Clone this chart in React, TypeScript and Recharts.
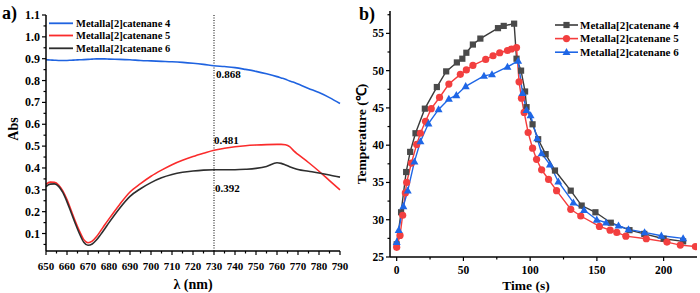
import { LineChart, Line, XAxis, YAxis, ReferenceLine, ReferenceDot } from 'recharts';

// ---- panel a: absorption spectra ----
const wavelengths = [
  650, 652, 654, 656, 658, 660, 662, 664, 666, 668, 670, 672, 674, 676, 678, 680,
  685, 690, 695, 700, 705, 710, 715, 720, 725, 730, 735, 740, 745, 750, 755, 760,
  762, 764, 766, 768, 770, 775, 780, 785, 790,
];
const absCat4 = [
  0.895, 0.894, 0.893, 0.892, 0.892, 0.892, 0.893, 0.894, 0.895, 0.896, 0.897, 0.898, 0.899, 0.899, 0.899, 0.898,
  0.897, 0.895, 0.892, 0.89, 0.888, 0.886, 0.883, 0.879, 0.874, 0.868, 0.864, 0.859, 0.851, 0.842, 0.831, 0.818,
  0.812, 0.806, 0.798, 0.792, 0.784, 0.764, 0.745, 0.722, 0.695,
];
const absCat5 = [
  0.325, 0.335, 0.334, 0.322, 0.295, 0.255, 0.205, 0.155, 0.11, 0.072, 0.058, 0.065, 0.085, 0.112, 0.14, 0.167,
  0.232, 0.29, 0.328, 0.362, 0.39, 0.415, 0.435, 0.452, 0.467, 0.481, 0.49, 0.497, 0.502, 0.505, 0.507, 0.508,
  0.508, 0.506, 0.498, 0.478, 0.462, 0.425, 0.385, 0.342, 0.3,
];
const absCat6 = [
  0.315, 0.326, 0.327, 0.316, 0.288, 0.245, 0.195, 0.145, 0.098, 0.06, 0.046, 0.052, 0.07, 0.095, 0.122, 0.15,
  0.215, 0.27, 0.305, 0.333, 0.355, 0.37, 0.38, 0.386, 0.39, 0.392, 0.392, 0.392, 0.394, 0.398, 0.407, 0.424,
  0.421, 0.414, 0.406, 0.399, 0.393, 0.385, 0.377, 0.368, 0.358,
];
const wlTicks = [650, 655, 660, 665, 670, 675, 680, 685, 690, 695, 700, 705, 710, 715, 720, 725, 730, 735, 740, 745, 750, 755, 760, 765, 770, 775, 780, 785, 790];
const absTicks = [0.05, 0.1, 0.15, 0.2, 0.25, 0.3, 0.35, 0.4, 0.45, 0.5, 0.55, 0.6, 0.65, 0.7, 0.75, 0.8, 0.85, 0.9, 0.95, 1.0, 1.05, 1.1];

// ---- panel b: photothermal heating / cooling ----
const time4 = [0, 3.3, 7.1, 10.1, 14.1, 21.1, 30.1, 37.1, 45.1, 49.2, 52.2, 57.1, 62.7, 75.9, 80.2, 88, 89.8, 93.2, 96.2, 97.3, 101.8, 106, 111.6, 118.6, 130.4, 138.6, 148.9, 160.4, 174.4, 185.5, 200, 214.6];
const temp4 = [26.7, 31.0, 36.4, 39.1, 41.6, 44.9, 47.8, 49.9, 51.1, 51.6, 52.4, 53.5, 54.3, 55.7, 56.0, 56.3, 51.6, 50.0, 47.2, 45.1, 42.8, 40.8, 38.8, 36.6, 33.9, 31.9, 31.0, 29.6, 28.6, 28.1, 27.45, 27.1];
const time5 = [0, 2.5, 4.5, 6.5, 7.5, 11, 15, 17.8, 21.6, 25.9, 32.1, 39.1, 47.7, 52.2, 57.1, 66.7, 72.2, 77.2, 83, 86, 89.8, 91.7, 93.5, 95.5, 98.5, 101.8, 104.8, 108.6, 113.8, 119.8, 130.4, 137.9, 151.9, 159.9, 164.9, 171.7, 187, 202.5, 212.5, 223.8];
const temp5 = [26.3, 27.9, 30.6, 33.6, 35.0, 37.6, 40.1, 41.6, 43.2, 44.9, 46.4, 48.2, 49.5, 50.1, 50.7, 51.5, 52.0, 52.4, 52.7, 52.9, 53.1, 48.5, 46.3, 44.4, 41.7, 39.6, 38.1, 36.7, 35.4, 33.9, 31.4, 30.5, 29.1, 28.6, 28.3, 27.8, 27.45, 27.0, 26.6, 26.4];
const time6 = [0, 1.5, 5, 8.3, 13.3, 17.8, 23.8, 31.4, 39.1, 44.7, 51.7, 65.4, 71.4, 83, 91, 94.3, 97.3, 100.3, 105.3, 108.6, 114.8, 121.1, 132.4, 140.4, 149.9, 156.9, 166.2, 173.7, 185.7, 198.3, 214.6];
const temp6 = [27.0, 28.6, 31.8, 33.9, 37.8, 40.5, 42.9, 44.8, 46.2, 46.7, 47.9, 49.3, 49.5, 50.5, 51.3, 47.0, 44.7, 44.0, 40.9, 38.9, 37.4, 35.1, 32.3, 31.3, 30.0, 29.6, 29.2, 28.7, 28.3, 27.85, 27.5];
const timeTicks = [0, 25, 50, 75, 100, 125, 150, 175, 200];
const tempTicks = [25, 27.5, 30, 32.5, 35, 37.5, 40, 42.5, 45, 47.5, 50, 52.5, 55, 57.5];

const seriesNames = ['Metalla[2]catenane 4', 'Metalla[2]catenane 5', 'Metalla[2]catenane 6'];
const specColors = ['#1f63e0', '#fa2b2b', '#2e2e2e'];
const tempColors = ['#3a3a3a', '#f53c3c', '#1e66e6'];

const FONT = '"Liberation Serif", "Times New Roman", serif';

const specData = wavelengths.map((wl, i) => ({ wl, c4: absCat4[i], c5: absCat5[i], c6: absCat6[i] }));
const toPts = (ts: number[], vs: number[]) => ts.map((t, i) => ({ t, v: vs[i] }));
const data4 = toPts(time4, temp4);
const data5 = toPts(time5, temp5);
const data6 = toPts(time6, temp6);

function makeXTick(isMajor: (v: number) => boolean, fmt: (v: number) => string, size: number, gap: number) {
  return (p: any) => {
    const v = p.payload.value;
    const major = isMajor(v);
    return (
      <g>
        <line x1={p.x} x2={p.x} y1={p.y} y2={p.y + (major ? 4 : 2.5)} stroke="#000" strokeWidth={1.2} />
        {major && (
          <text x={p.x} y={p.y + gap} textAnchor="middle" fontFamily={FONT} fontWeight="bold" fontSize={size} fill="#000">
            {fmt(v)}
          </text>
        )}
      </g>
    );
  };
}

function makeYTick(isMajor: (v: number) => boolean, fmt: (v: number) => string, size: number, gap: number) {
  return (p: any) => {
    const v = p.payload.value;
    const major = isMajor(v);
    return (
      <g>
        <line x1={p.x} x2={p.x - (major ? 4 : 2.5)} y1={p.y} y2={p.y} stroke="#000" strokeWidth={1.2} />
        {major && (
          <text x={p.x - gap} y={p.y + 4} textAnchor="end" fontFamily={FONT} fontWeight="bold" fontSize={size} fill="#000">
            {fmt(v)}
          </text>
        )}
      </g>
    );
  };
}

const valueLabel = (text: string, dx: number, dy: number) => (p: any) => (
  <text x={p.viewBox.x + dx} y={p.viewBox.y + dy} fontFamily={FONT} fontWeight="bold" fontSize={11} fill="#000">
    {text}
  </text>
);

const squareDot = (color: string) => (p: any) =>
  <rect key={`s${p.index}`} x={p.cx - 3.1} y={p.cy - 3.1} width={6.2} height={6.2} fill={color} />;
const circleDot = (color: string) => (p: any) =>
  <circle key={`c${p.index}`} cx={p.cx} cy={p.cy} r={3.6} fill={color} />;
const triDot = (color: string) => (p: any) =>
  <path key={`t${p.index}`} d={`M${p.cx},${p.cy - 4.2} L${p.cx + 4},${p.cy + 2.9} L${p.cx - 4},${p.cy + 2.9} Z`} fill={color} />;

const axisLine = { stroke: '#000', strokeWidth: 1.5 };

function SpectraPanel() {
  return (
    <LineChart width={350} height={293} data={specData} margin={{ top: 15, right: 10, bottom: 0, left: 0 }}>
      <XAxis
        dataKey="wl" type="number" domain={[650, 790]} ticks={wlTicks} interval={0}
        tickSize={0} tickMargin={0} tickLine={false} axisLine={axisLine} height={42}
        tick={makeXTick((v) => v % 10 === 0, (v) => String(v), 11, 18.5)}
      />
      <XAxis xAxisId="top" orientation="top" type="number" domain={[650, 790]} tick={false} tickLine={false} axisLine={axisLine} height={0} />
      <YAxis
        type="number" domain={[0.02, 1.1]} ticks={absTicks} interval={0} allowDataOverflow
        tickSize={0} tickMargin={0} tickLine={false} axisLine={axisLine} width={46}
        tick={makeYTick((v) => Math.round(v * 100) % 10 === 0, (v) => v.toFixed(1), 12, 6)}
      />
      <YAxis yAxisId="r" orientation="right" tick={false} tickLine={false} axisLine={axisLine} width={0} />
      <ReferenceLine x={730} stroke="#000" strokeWidth={1} strokeDasharray="1 1.5" />
      <Line dataKey="c4" stroke={specColors[0]} strokeWidth={1.6} dot={false} type="monotone" isAnimationActive={false} />
      <Line dataKey="c5" stroke={specColors[1]} strokeWidth={1.6} dot={false} type="monotone" isAnimationActive={false} />
      <Line dataKey="c6" stroke={specColors[2]} strokeWidth={1.6} dot={false} type="monotone" isAnimationActive={false} />
      <ReferenceDot x={730} y={0.868} r={0} stroke="none" label={{ content: valueLabel('0.868', 2, 12) }} />
      <ReferenceDot x={730} y={0.481} r={0} stroke="none" label={{ content: valueLabel('0.481', 0, -6) }} />
      <ReferenceDot x={730} y={0.392} r={0} stroke="none" label={{ content: valueLabel('0.392', 1, 22) }} />
    </LineChart>
  );
}

function TempPanel() {
  return (
    <LineChart width={350} height={293} margin={{ top: 11, right: 3, bottom: 0, left: 0 }}>
      <XAxis
        dataKey="t" type="number" domain={[-5, 225]} ticks={timeTicks} interval={0} allowDataOverflow
        tickSize={0} tickMargin={0} tickLine={false} axisLine={axisLine} height={36}
        tick={makeXTick((v) => v % 50 === 0, (v) => String(v), 11.5, 16.5)}
      />
      <XAxis xAxisId="top" orientation="top" type="number" domain={[-5, 225]} tick={false} tickLine={false} axisLine={axisLine} height={0} />
      <YAxis
        type="number" domain={[25, 58]} ticks={tempTicks} interval={0} allowDataOverflow
        tickSize={0} tickMargin={0} tickLine={false} axisLine={axisLine} width={40}
        tick={makeYTick((v) => v % 5 === 0, (v) => String(v), 11.5, 6)}
      />
      <YAxis yAxisId="r" orientation="right" tick={false} tickLine={false} axisLine={axisLine} width={0} />
      <Line data={data4} dataKey="v" stroke={tempColors[0]} strokeWidth={1.4} dot={squareDot('#4a4a4a')} isAnimationActive={false} />
      <Line data={data5} dataKey="v" stroke={tempColors[1]} strokeWidth={1.4} dot={circleDot('#f23f3f')} isAnimationActive={false} />
      <Line data={data6} dataKey="v" stroke={tempColors[2]} strokeWidth={1.4} dot={triDot('#1e66e6')} isAnimationActive={false} />
    </LineChart>
  );
}

export default function App() {
  const markers = [squareDot('#4a4a4a'), circleDot('#f23f3f'), triDot('#1e66e6')];
  return (
    <div style={{ position: 'fixed', left: 0, top: 0, width: 700, height: 293, background: '#fff', fontFamily: FONT }}>
      <div style={{ position: 'absolute', left: 0, top: 0 }}>
        <SpectraPanel />
      </div>
      <div style={{ position: 'absolute', left: 350, top: 0 }}>
        <TempPanel />
      </div>
      <svg width={700} height={293} style={{ position: 'absolute', left: 0, top: 0, pointerEvents: 'none' }}>
        <g fontFamily={FONT} fontWeight="bold" fill="#000">
          <text x={2} y={19} fontSize={18}>a)</text>
          <text x={359} y={20} fontSize={18}>b)</text>
          <text x={193} y={289} fontSize={14} textAnchor="middle">λ (nm)</text>
          <text x={526} y={290} fontSize={13.5} textAnchor="middle">Time (s)</text>
          <text transform="translate(18,129) rotate(-90)" fontSize={14} textAnchor="middle">Abs</text>
          <text transform="translate(366,134) rotate(-90)" fontSize={13.5} textAnchor="middle">Temperature (℃)</text>
        </g>
        {seriesNames.map((name, i) => {
          const y = [23.3, 35.5, 48.3][i];
          return (
            <g key={`la${i}`}>
              <line x1={49} x2={73} y1={y} y2={y} stroke={specColors[i]} strokeWidth={1.8} />
              <text x={76} y={y + 3.6} fontFamily={FONT} fontWeight="bold" fontSize={10.5} fill="#000">{name}</text>
            </g>
          );
        })}
        {seriesNames.map((name, i) => {
          const y = 25 + i * 13.6;
          return (
            <g key={`lb${i}`}>
              <line x1={555} x2={578} y1={y} y2={y} stroke={tempColors[i]} strokeWidth={1.6} />
              {markers[i]({ cx: 566.5, cy: y, index: `lg${i}` })}
              <text x={580} y={y + 3.8} fontFamily={FONT} fontWeight="bold" fontSize={11} fill="#000">{name}</text>
            </g>
          );
        })}
      </svg>
    </div>
  );
}
